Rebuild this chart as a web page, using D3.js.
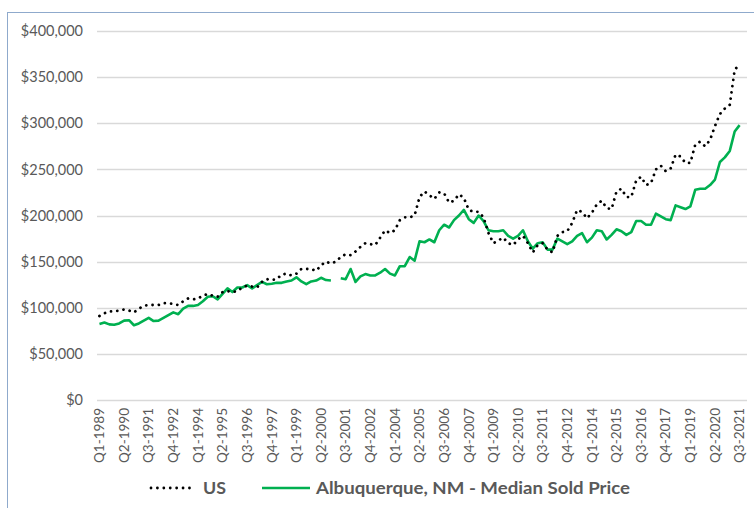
<!DOCTYPE html>
<html><head><meta charset="utf-8">
<script src="https://cdn.jsdelivr.net/npm/d3@7"></script>
<style>body{margin:0;background:#fff}svg{display:block}</style>
</head><body>
<svg id="c" width="754" height="508"></svg>
<script>
// Quarterly categories Q1-1989 .. Q4-2021 (last one empty)
const years = d3.range(1989, 2022);
const categories = [];
years.forEach(y => [1,2,3,4].forEach(q => categories.push("Q" + q + "-" + y)));

// US median sold price (thousands $), Q1-1989 .. Q3-2021
const usValues = [
  91, 94, 96, 96, 97, 98, 97, 95, 99, 102, 103, 103, 103, 105, 105, 104,
  103, 107, 110, 109, 110, 113, 115, 113, 112, 117, 118, 117, 118, 122, 124, 123,
  122, 128, 131, 130, 131, 136, 137, 135, 137, 142, 142, 142, 140, 146, 150, 148,
  150, 155, 158, 157, 161, 166, 170, 169, 168, 176, 184, 181, 184, 195, 198, 198,
  200, 220, 226, 222, 218, 225, 224, 214, 216, 223, 219, 206, 204, 204, 198, 181,
  170, 173, 176, 170, 168, 174, 178, 170, 160, 168, 170, 163, 160, 178, 182, 183,
  192, 206, 204, 197, 203, 212, 216, 208, 207, 226, 229, 220, 220, 238, 242, 233,
  235, 250, 254, 248, 251, 266, 264, 257, 257, 277, 280, 275, 282, 297, 310, 316,
  320, 358, 364
];

// Albuquerque, NM median sold price (thousands $); null = no data
const abqValues = [
  82.5, 84, 82, 81.5, 83, 86, 86.5, 81, 83, 86, 89, 85.6, 86, 89, 92, 95,
  93, 99, 102, 102, 103, 107, 112, 112.5, 109, 115, 121, 117, 122, 122, 124.5, 121,
  124.5, 128, 125.5, 126, 127, 127, 128.5, 129.5, 133, 128.5, 125.5, 128.5, 129.5, 132.5, 130, 129.5,
  null, 132, 131, 142, 128, 134, 136.5, 135, 135, 138, 142, 137, 135, 145, 145, 155,
  151, 172, 171, 174, 171, 184, 190, 187, 195, 200, 206, 196, 192, 200, 194, 184,
  183, 183, 184, 178, 175, 178, 184, 172, 164, 170, 171, 163, 163, 175, 172, 169,
  172, 178, 181, 171, 176, 184, 183, 174, 179, 185, 183, 179, 182, 194, 194, 190,
  190, 202, 199, 196, 195, 211, 209, 207, 210, 228, 229, 229, 233, 239, 258, 263,
  270, 291, 298
];

const yTicks = [0, 50000, 100000, 150000, 200000, 250000, 300000, 350000, 400000];
const seriesNames = ["US", "Albuquerque, NM - Median Sold Price"];

const svg = d3.select("#c");
const x = d3.scaleBand().domain(d3.range(categories.length)).range([97, 747]).padding(0);
const cx = i => x(i) + x.bandwidth() / 2;
const y = d3.scaleLinear().domain([0, 400000]).range([400, 31]);

// frame
svg.append("rect").attr("x", 7.5).attr("y", 12.5).attr("width", 760).attr("height", 520)
  .attr("fill", "none").attr("stroke", "#8FAACC").attr("stroke-width", 1);

// gridlines
svg.append("g").selectAll("line").data(yTicks).join("line")
  .attr("x1", 97).attr("x2", 747)
  .attr("y1", d => Math.round(y(d)) + 0.5).attr("y2", d => Math.round(y(d)) + 0.5)
  .attr("stroke", "#D9D9D9").attr("stroke-width", 1.3);

const font = "Lato, 'Open Sans', sans-serif";
// y axis labels
const yAxis = d3.axisLeft(y).tickValues(yTicks).tickSize(0).tickPadding(0)
  .tickFormat(d => "$" + d3.format(",")(d));
const gy = svg.append("g").attr("transform", "translate(83,0)").call(yAxis);
gy.select(".domain").remove();
gy.selectAll("text").attr("fill", "#595959").attr("font-family", font).attr("font-size", 14.5);

// x axis labels every 5 quarters
const xAxis = d3.axisBottom(x).tickValues(d3.range(0, 131, 5)).tickSize(0).tickPadding(0)
  .tickFormat(i => categories[i]);
const gx = svg.append("g").attr("transform", "translate(0,408)").call(xAxis);
gx.select(".domain").remove();
gx.selectAll("text").attr("fill", "#595959").attr("font-family", font).attr("font-size", 13.5)
  .attr("transform", "rotate(-90)").attr("text-anchor", "end")
  .attr("x", 0).attr("y", 0).attr("dy", "0.35em").attr("dx", 0);

// lines
const lineUS = d3.line().x((d, i) => cx(i)).y(d => y(d * 1000));
const lineABQ = d3.line().defined(d => d != null).x((d, i) => cx(i)).y(d => y(d * 1000));

svg.append("path").datum(abqValues).attr("d", lineABQ)
  .attr("fill", "none").attr("stroke", "#00B050").attr("stroke-width", 2.6).attr("stroke-linejoin", "round");
svg.append("path").datum(usValues).attr("d", lineUS)
  .attr("fill", "none").attr("stroke", "#000").attr("stroke-width", 2.8)
  .attr("stroke-linecap", "round").attr("stroke-dasharray", "0.01 6.3");

// legend
const lg = svg.append("g");
lg.append("line").attr("x1", 151).attr("x2", 190).attr("y1", 488).attr("y2", 488)
  .attr("stroke", "#000").attr("stroke-width", 2.8).attr("stroke-linecap", "round").attr("stroke-dasharray", "0.01 6.4");
lg.append("text").attr("x", 203).attr("y", 488).attr("dy", "0.35em").text(seriesNames[0])
  .attr("fill", "#595959").attr("font-family", font).attr("font-weight", "bold").attr("font-size", 17.5)
  .attr("textLength", 23).attr("lengthAdjust", "spacingAndGlyphs");
lg.append("line").attr("x1", 262).attr("x2", 310).attr("y1", 488).attr("y2", 488)
  .attr("stroke", "#00B050").attr("stroke-width", 2.6);
lg.append("text").attr("x", 316).attr("y", 488).attr("dy", "0.35em").text(seriesNames[1])
  .attr("fill", "#595959").attr("font-family", font).attr("font-weight", "bold").attr("font-size", 17.5)
  .attr("textLength", 314).attr("lengthAdjust", "spacingAndGlyphs");
</script>
</body></html>
